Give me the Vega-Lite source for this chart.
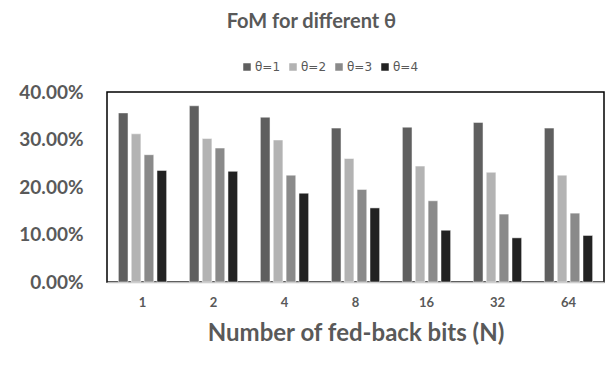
{
  "$schema": "https://vega.github.io/schema/vega-lite/v6.json",
  "autosize": "none",
  "width": 497,
  "height": 190,
  "padding": {"left": 107, "top": 92, "right": 4, "bottom": 84},
  "background": "white",
  "title": {
    "text": "FoM for different θ",
    "font": "Lato",
    "fontSize": 20,
    "fontWeight": "bold",
    "color": "#595959",
    "anchor": "middle",
    "frame": "bounds",
    "offset": 29
  },
  "data": {
    "values": [
      {"N": "1", "theta": "θ=1", "v": 0.356},
      {"N": "1", "theta": "θ=2", "v": 0.312},
      {"N": "1", "theta": "θ=3", "v": 0.268},
      {"N": "1", "theta": "θ=4", "v": 0.235},
      {"N": "2", "theta": "θ=1", "v": 0.371},
      {"N": "2", "theta": "θ=2", "v": 0.302},
      {"N": "2", "theta": "θ=3", "v": 0.282},
      {"N": "2", "theta": "θ=4", "v": 0.233},
      {"N": "4", "theta": "θ=1", "v": 0.347},
      {"N": "4", "theta": "θ=2", "v": 0.299},
      {"N": "4", "theta": "θ=3", "v": 0.225},
      {"N": "4", "theta": "θ=4", "v": 0.187},
      {"N": "8", "theta": "θ=1", "v": 0.324},
      {"N": "8", "theta": "θ=2", "v": 0.260},
      {"N": "8", "theta": "θ=3", "v": 0.195},
      {"N": "8", "theta": "θ=4", "v": 0.156},
      {"N": "16", "theta": "θ=1", "v": 0.326},
      {"N": "16", "theta": "θ=2", "v": 0.244},
      {"N": "16", "theta": "θ=3", "v": 0.171},
      {"N": "16", "theta": "θ=4", "v": 0.109},
      {"N": "32", "theta": "θ=1", "v": 0.336},
      {"N": "32", "theta": "θ=2", "v": 0.231},
      {"N": "32", "theta": "θ=3", "v": 0.143},
      {"N": "32", "theta": "θ=4", "v": 0.093},
      {"N": "64", "theta": "θ=1", "v": 0.324},
      {"N": "64", "theta": "θ=2", "v": 0.225},
      {"N": "64", "theta": "θ=3", "v": 0.145},
      {"N": "64", "theta": "θ=4", "v": 0.098}
    ]
  },
  "mark": {"type": "bar"},
  "encoding": {
    "x": {
      "field": "N",
      "type": "nominal",
      "sort": ["1", "2", "4", "8", "16", "32", "64"],
      "scale": {"paddingInner": 0.32, "paddingOuter": 0.16},
      "axis": {
        "title": "Number of fed-back bits (N)",
        "titleFont": "Lato",
        "titleFontSize": 24,
        "titleFontWeight": "bold",
        "titleColor": "#595959",
        "titlePadding": 12,
        "labelAngle": 0,
        "labelFont": "Lato",
        "labelFontSize": 13,
        "labelFontWeight": "bold",
        "labelColor": "#595959",
        "labelPadding": 14,
        "ticks": false,
        "domainColor": "#bfbfbf",
        "domainWidth": 1.5
      }
    },
    "xOffset": {
      "field": "theta",
      "type": "nominal",
      "scale": {"paddingInner": 0.25}
    },
    "y": {
      "field": "v",
      "type": "quantitative",
      "scale": {"domain": [0, 0.4]},
      "axis": {
        "title": null,
        "format": ".2%",
        "values": [0, 0.1, 0.2, 0.3, 0.4],
        "labelOverlap": false,
        "labelFlush": false,
        "labelFont": "Lato",
        "labelFontSize": 19,
        "labelFontWeight": "bold",
        "labelColor": "#595959",
        "labelPadding": 24,
        "ticks": false,
        "domain": false,
        "grid": false
      }
    },
    "color": {
      "field": "theta",
      "type": "nominal",
      "scale": {
        "domain": ["θ=1", "θ=2", "θ=3", "θ=4"],
        "range": ["#5f5f5f", "#b3b3b3", "#8a8a8a", "#222222"]
      },
      "legend": {
        "title": null,
        "orient": "none",
        "direction": "horizontal",
        "legendX": 134,
        "legendY": -31,
        "symbolType": "square",
        "symbolSize": 64,
        "symbolStrokeWidth": 0,
        "labelFont": "DejaVu Sans",
        "labelFontSize": 12,
        "labelColor": "#595959",
        "columnPadding": 6,
        "labelOffset": 2
      }
    }
  },
  "config": {
    "view": {"stroke": "black", "strokeWidth": 1.5},
    "bar": {"stroke": "white", "strokeWidth": 0.5}
  }
}
